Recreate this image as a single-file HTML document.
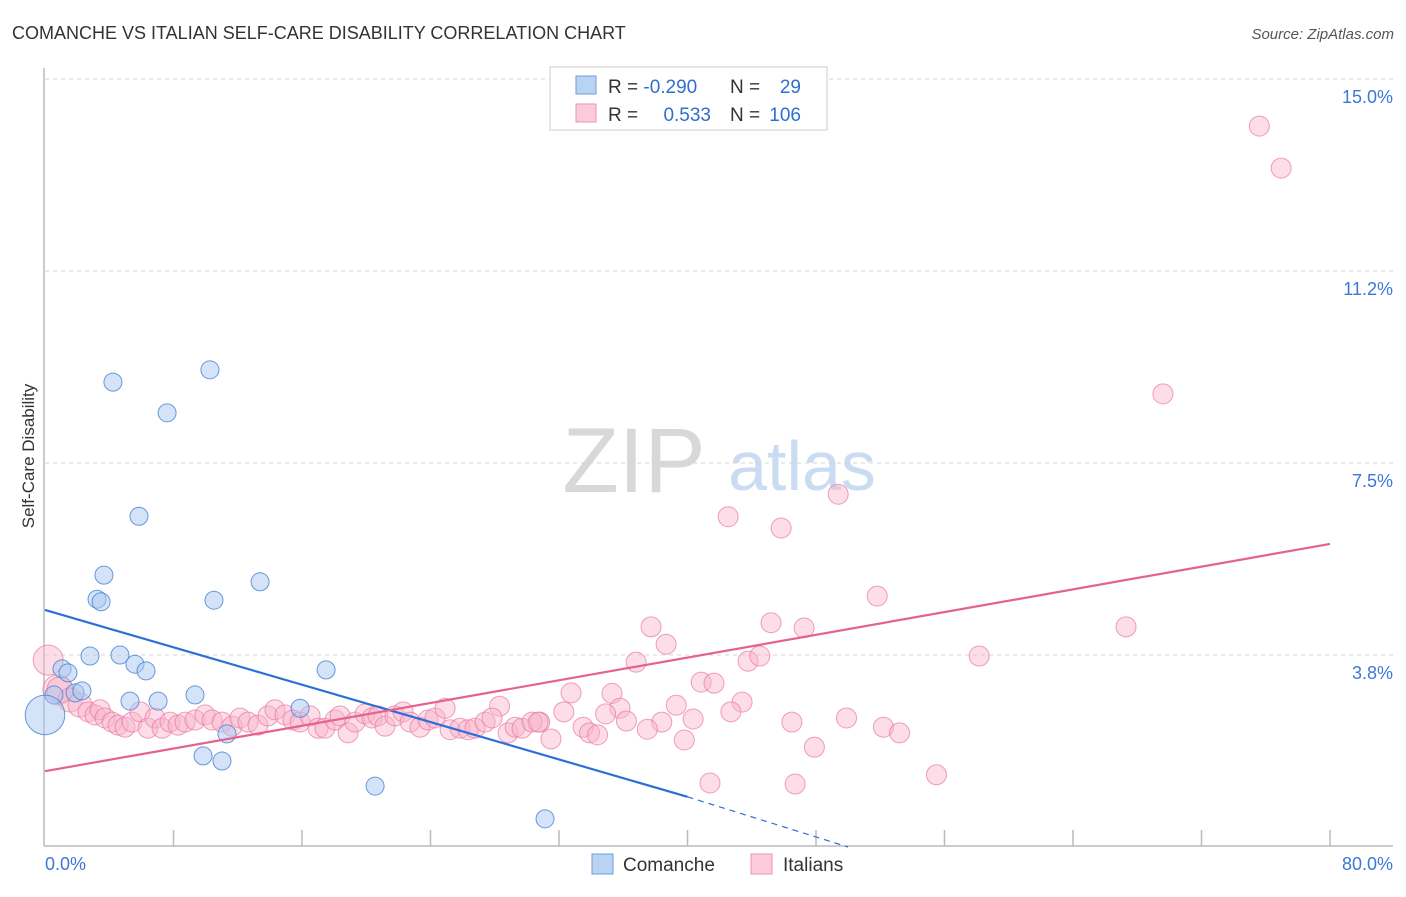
<!DOCTYPE html>
<html><head><meta charset="utf-8"><style>
body{margin:0;background:#fff;font-family:"Liberation Sans",sans-serif}
svg text{font-family:"Liberation Sans",sans-serif}
</style></head><body>
<svg id="chart" width="1406" height="892" xmlns="http://www.w3.org/2000/svg">
<text x="12" y="39" font-size="18" fill="#333">COMANCHE VS ITALIAN SELF-CARE DISABILITY CORRELATION CHART</text>
<text x="1394" y="39" font-size="15" fill="#555" text-anchor="end" font-style="italic">Source: ZipAtlas.com</text>
<text transform="translate(34,456) rotate(-90)" font-size="17" fill="#333" text-anchor="middle">Self-Care Disability</text>
<g>
<text x="634" y="492" font-size="92" fill="#d8d8d8" font-family="Liberation Serif" text-anchor="middle">ZIP</text>
<text x="802" y="490" font-size="70" fill="#c9dcf2" text-anchor="middle">atlas</text>
</g>
<g id="grid"></g>
<g id="axes"></g>
<g id="pts"></g>
<g id="lines"></g>
<g>
<rect x="550" y="67" width="277" height="63" fill="#fff" stroke="#ccc"/>
<rect x="576" y="76" width="20" height="18" fill="#b9d3f3" stroke="#6d9fdc"/>
<rect x="576" y="104" width="20" height="18" fill="#fbcbd9" stroke="#ec93b0"/>
<text x="608" y="93" font-size="19" fill="#333">R = <tspan fill="#2e6fd0">-0.290</tspan></text>
<text x="730" y="93" font-size="19" fill="#333">N = </text><text x="801" y="93" font-size="19" fill="#2e6fd0" text-anchor="end">29</text>
<text x="608" y="121" font-size="19" fill="#333">R = </text><text x="711" y="121" font-size="19" fill="#2e6fd0" text-anchor="end">0.533</text>
<text x="730" y="121" font-size="19" fill="#333">N = </text><text x="801" y="121" font-size="19" fill="#2e6fd0" text-anchor="end">106</text>
</g>
<g>
<rect x="592" y="854" width="21" height="20" fill="#b9d3f3" stroke="#6d9fdc"/>
<text x="623" y="871" font-size="19" fill="#333">Comanche</text>
<rect x="751" y="854" width="21" height="20" fill="#fbcbd9" stroke="#ec93b0"/>
<text x="783" y="871" font-size="19" fill="#333">Italians</text>
</g>
</svg>
<script>
const yTicks=[15.0,11.25,7.5,3.75];
const yTickLabels=["15.0%","11.2%","7.5%","3.8%"];
const xTickCount=10;
const xLabels=["0.0%","80.0%"];
const comanche=[[4.23,9.08],[10.27,9.32],[7.60,8.48],[5.85,6.46],[3.67,5.31],[3.24,4.84],[3.49,4.79],[10.52,4.82],[13.39,5.18],[2.80,3.73],[4.67,3.75],[5.60,3.57],[6.29,3.44],[1.06,3.48],[1.43,3.40],[17.50,3.46],[0.56,2.97],[1.87,3.01],[2.30,3.05],[5.29,2.85],[7.04,2.85],[9.34,2.97],[15.88,2.71],[11.33,2.21],[9.84,1.78],[11.02,1.68],[20.55,1.19],[31.13,0.55],[0,2.58]];
const comancheSize=[1,1,1,1,1,1,1,1,1,1,1,1,1,1,1,1,1,1,1,1,1,1,1,1,1,1,1,1,2.2];
const italians=[[75.6,14.08],[76.96,13.26],[69.6,8.85],[49.38,6.89],[42.53,6.45],[45.83,6.23],[51.81,4.90],[45.2,4.38],[47.26,4.28],[37.73,4.30],[38.67,3.96],[67.3,4.30],[58.16,3.73],[36.8,3.61],[43.77,3.63],[44.5,3.73],[40.85,3.22],[41.65,3.20],[32.75,3.01],[35.3,3.0],[43.4,2.83],[39.3,2.77],[35.8,2.71],[42.7,2.64],[28.3,2.75],[32.3,2.64],[34.9,2.6],[36.2,2.46],[38.4,2.44],[40.35,2.5],[46.5,2.44],[49.9,2.52],[52.2,2.34],[53.2,2.23],[47.9,1.95],[39.8,2.09],[37.5,2.3],[31.5,2.11],[33.5,2.34],[33.9,2.23],[34.4,2.19],[30.8,2.44],[41.4,1.25],[46.7,1.23],[55.5,1.41],
[0.2,3.65],[0.8,3.07],[0.93,3.07],[1.56,2.87],[2.18,2.77],[2.68,2.64],[3.11,2.58],[3.43,2.68],[3.74,2.52],[4.17,2.44],[4.55,2.38],[4.98,2.34],[5.42,2.44],[5.92,2.64],[6.41,2.32],[6.85,2.52],[7.29,2.32],[7.78,2.44],[8.28,2.38],[8.72,2.44],[9.34,2.48],[9.96,2.58],[10.4,2.48],[11.02,2.44],[11.65,2.36],[12.14,2.52],[12.64,2.44],[13.26,2.38],[13.88,2.56],[14.32,2.68],[14.94,2.58],[15.44,2.48],[15.88,2.44],[16.5,2.56],[17.0,2.32],[17.43,2.32],[18.06,2.48],[18.37,2.56],[18.87,2.23],[19.3,2.44],[19.93,2.60],[20.36,2.52],[20.73,2.56],[21.17,2.36],[21.79,2.56],[22.29,2.64],[22.73,2.44],[23.35,2.34],[23.85,2.48],[24.28,2.52],[24.91,2.71],[25.22,2.29],[25.84,2.32],[26.34,2.29],[26.77,2.32],[27.4,2.44],[27.83,2.52],[28.83,2.23],[29.27,2.34],[29.7,2.32],[30.32,2.44],[30.7,2.44]];
const italianSize={45:1.5,46:1.5,47:1.3,48:1.2,49:1.2};
const comancheLine=[[0,4.63],[40,0.98],[50,0.0]];
const italianLine=[[0,1.48],[80,5.92]];
const X=v=>45+v*(1330-45)/80;
const Y=v=>847-v*51.2;
const NS="http://www.w3.org/2000/svg";
function mk(p,t,a){const e=document.createElementNS(NS,t);for(const k in a)e.setAttribute(k,a[k]);p.appendChild(e);return e;}
const grid=document.getElementById('grid'),axes=document.getElementById('axes'),pts=document.getElementById('pts'),lines=document.getElementById('lines');
yTicks.forEach((t,i)=>{
 const l=mk(grid,'line',{x1:45,x2:1393,y1:Y(t),y2:Y(t),stroke:'#d6d6d6','stroke-dasharray':'4 4'});
 
 
 const tx=mk(grid,'text',{x:1393,y:Y(t)+24,'font-size':18,fill:'#3b78d8','text-anchor':'end'});
 tx.textContent=yTickLabels[i];
 
 
});
const ya=mk(axes,'line',{x1:44,x2:44,y1:68,y2:846,stroke:'#bbb','stroke-width':1.5});


const xa=mk(axes,'line',{x1:44,x2:1393,y1:846,y2:846,stroke:'#bbb','stroke-width':1.5});


for(let i=1;i<=xTickCount;i++){
 const tk=mk(axes,'line',{x1:X(i*8),x2:X(i*8),y1:830,y2:846,stroke:'#bbb','stroke-width':1.5});
 
 
}
const xl0=mk(axes,'text',{x:45,y:870,'font-size':18,fill:'#3b78d8'});xl0.textContent=xLabels[0];


const xl1=mk(axes,'text',{x:1393,y:870,'font-size':18,fill:'#3b78d8','text-anchor':'end'});xl1.textContent=xLabels[1];


italians.forEach((d,i)=>{
 const r=10*(italianSize[i]||1);
 const c=mk(pts,'circle',{cx:X(d[0]),cy:Y(d[1]),r:r,fill:'rgba(248,180,203,0.45)',stroke:'rgba(232,120,160,0.7)','stroke-width':1});
 
 
});
comanche.forEach((d,i)=>{
 const c=mk(pts,'circle',{cx:X(d[0]),cy:Y(d[1]),r:9*comancheSize[i],fill:'rgba(170,200,240,0.5)',stroke:'rgba(70,130,210,0.8)','stroke-width':1});
 
 
});
const bl=mk(lines,'line',{x1:X(comancheLine[0][0]),y1:Y(comancheLine[0][1]),x2:X(comancheLine[1][0]),y2:Y(comancheLine[1][1]),stroke:'#2d6fd6','stroke-width':2.2});


const bd=mk(lines,'line',{x1:X(comancheLine[1][0]),y1:Y(comancheLine[1][1]),x2:X(comancheLine[2][0]),y2:Y(comancheLine[2][1]),stroke:'#2d6fd6','stroke-width':1.2,'stroke-dasharray':'6 5'});


const pl=mk(lines,'line',{x1:X(italianLine[0][0]),y1:Y(italianLine[0][1]),x2:X(italianLine[1][0]),y2:Y(italianLine[1][1]),stroke:'#e5628e','stroke-width':2.2});


</script>
</body></html>
